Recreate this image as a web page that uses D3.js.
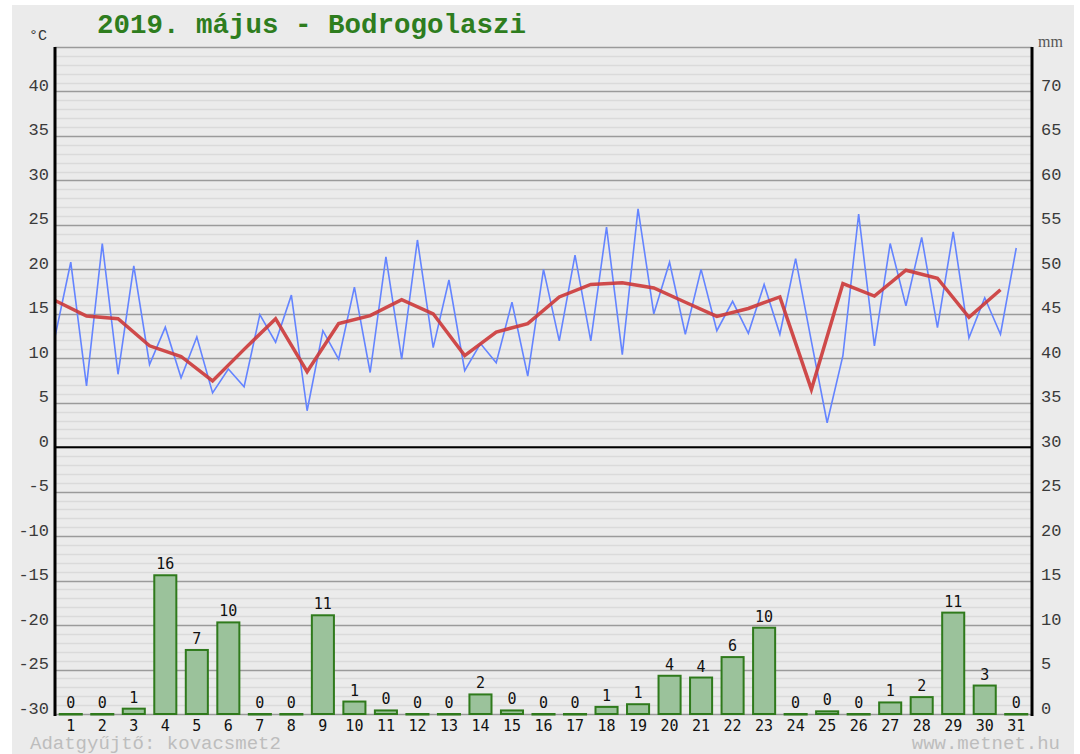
<!DOCTYPE html>
<html>
<head>
<meta charset="utf-8">
<script src="https://cdn.jsdelivr.net/npm/d3@7"></script>
<style>
  body { margin: 0; background: #fff; }
  svg { display: block; }
</style>
</head>
<body>
<div id="chart"></div>
<script>
// days of the month
const days = [1, 2, 3, 4, 5, 6, 7, 8, 9, 10, 11, 12, 13, 14, 15, 16,
  17, 18, 19, 20, 21, 22, 23, 24, 25, 26, 27, 28, 29, 30, 31];

// daily mean temperature (°C)
const tempMean = [16.5, 14.75, 14.45, 11.4, 10.2, 7.45, 11.0, 14.45, 8.5, 13.9,
  14.8, 16.6, 15.0, 10.3, 12.95, 13.9, 16.9, 18.3, 18.5, 17.9, 16.3, 14.7, 15.6,
  16.9, 6.5, 18.4, 17.0, 19.9, 19.0, 14.6, 17.7];

// half-day temperature readings (°C), two per day
const tempHalfDay = [12.4, 20.8, 6.9, 22.9, 8.2, 20.4, 9.3, 13.5, 7.8, 12.4,
  6.1, 8.8, 6.8, 14.9, 11.8, 17.1, 4.1, 13.1, 9.9, 18.0,
  8.4, 21.4, 9.9, 23.3, 11.2, 18.8, 8.6, 11.65, 9.5, 16.3,
  8.0, 20.0, 11.95, 21.6, 11.95, 24.75, 10.4, 26.8, 15.0, 20.8,
  12.7, 20.0, 13.1, 16.4, 12.8, 18.3, 12.7, 21.2, 11.9, 2.75,
  10.3, 26.2, 11.4, 22.9, 15.9, 23.6, 13.45, 24.2, 12.3, 16.8, 12.7, 22.4];

// daily precipitation (mm)
const precip = [0, 0, 0.6, 15.6, 7.2, 10.3, 0, 0, 11.1, 1.4, 0.4, 0, 0, 2.2, 0.4,
  0, 0, 0.8, 1.1, 4.3, 4.1, 6.4, 9.7, 0, 0.3, 0, 1.3, 1.9, 11.4, 3.2, 0];

const tempTicks = [-30, -25, -20, -15, -10, -5, 0, 5, 10, 15, 20, 25, 30, 35, 40];
const precipTicks = [0, 5, 10, 15, 20, 25, 30, 35, 40, 45, 50, 55, 60, 65, 70];

const title = "2019. május - Bodrogolaszi";

const W = 1080, H = 754;
const plotLeft = 55, plotRight = 1032, plotTop = 47, plotBottom = 714;

const svg = d3.select("#chart").append("svg")
  .attr("width", W)
  .attr("height", H);

svg.append("rect")
  .attr("x", 12).attr("y", 5)
  .attr("width", 1062).attr("height", H - 5)
  .attr("fill", "#ebebeb");

// SCALES
const yT = d3.scaleLinear().domain([-30, 45]).range([plotBottom, plotTop]);
const yP = d3.scaleLinear().domain([0, 75]).range([plotBottom, plotTop]);
const xLine = d3.scaleLinear().domain([0, 31]).range([plotLeft, plotRight]);
const xBar = d3.scaleBand().domain(days).range([plotLeft, plotRight])
  .paddingInner(0.3).paddingOuter(0.15);

// grid
const grid = svg.append("g").attr("class", "grid");
grid.selectAll(".minor")
  .data(yT.ticks(75))
  .enter().append("line")
  .attr("class", "minor")
  .attr("x1", plotLeft).attr("x2", plotRight)
  .attr("y1", d => Math.round(yT(d)) + 0.5)
  .attr("y2", d => Math.round(yT(d)) + 0.5)
  .attr("stroke", d => d % 5 === 0 ? "#9a9a9a" : "#dadada")
  .attr("stroke-width", 1.5);

grid.append("line")
  .attr("x1", plotLeft).attr("x2", plotRight)
  .attr("y1", yT(0)).attr("y2", yT(0))
  .attr("stroke", "#000")
  .attr("stroke-width", 2);

// precipitation bars
const bars = svg.append("g").attr("class", "bars");
bars.selectAll("rect")
  .data(precip)
  .enter().append("rect")
  .attr("x", (d, i) => xBar(days[i]))
  .attr("width", xBar.bandwidth())
  .attr("y", d => yP(d))
  .attr("height", d => Math.max(yP(0) - yP(d), 0.5))
  .attr("fill", "#9bc29b")
  .attr("stroke", "#2f7a1c")
  .attr("stroke-width", 2);

bars.selectAll("text")
  .data(precip)
  .enter().append("text")
  .attr("x", (d, i) => xBar(days[i]) + xBar.bandwidth() / 2)
  .attr("y", d => yP(d) - 6)
  .attr("text-anchor", "middle")
  .attr("font-family", "DejaVu Sans Mono")
  .attr("font-size", 15)
  .attr("fill", "#111")
  .text(d => Math.round(d));

// temperature lines
const halfLine = d3.line()
  .x((d, i) => xLine(i / 2))
  .y(d => yT(d));

svg.append("path")
  .datum(tempHalfDay)
  .attr("d", halfLine)
  .attr("fill", "none")
  .attr("stroke", "#6484ff")
  .attr("stroke-width", 1.6);

const meanLine = d3.line()
  .x((d, i) => xLine(i))
  .y(d => yT(d));

svg.append("path")
  .datum(tempMean)
  .attr("d", meanLine)
  .attr("fill", "none")
  .attr("stroke", "#cc3838")
  .attr("stroke-width", 3.5)
  .attr("stroke-opacity", 0.9);

// AXES
const yAxisL = d3.axisLeft(yT).tickValues(tempTicks).tickSize(0).tickPadding(6)
  .tickFormat(d => String(d));
const yAxisR = d3.axisRight(yP).tickValues(precipTicks).tickSize(0).tickPadding(9)
  .tickFormat(d => String(d));
const xAxis = d3.axisBottom(xBar).tickSize(0).tickPadding(0);

const gL = svg.append("g")
  .attr("transform", "translate(" + plotLeft + ",0)")
  .call(yAxisL);
const gR = svg.append("g")
  .attr("transform", "translate(" + plotRight + ",0)")
  .call(yAxisR);
[gL, gR].forEach(g => {
  g.select(".domain").remove();
  g.selectAll("text")
    .attr("dy", "-1")
    .attr("font-family", "Liberation Mono")
    .attr("font-size", 17)
    .attr("fill", "#3a3a3a");
});

const gX = svg.append("g")
  .attr("transform", "translate(0," + plotBottom + ")")
  .call(xAxis);
gX.select(".domain").remove();
gX.selectAll("text")
  .attr("y", 17)
  .attr("dy", 0)
  .attr("font-family", "DejaVu Sans Mono")
  .attr("font-size", 15)
  .attr("fill", "#111");

// vertical axis lines
svg.append("line")
  .attr("x1", plotLeft).attr("x2", plotLeft)
  .attr("y1", plotTop).attr("y2", plotBottom + 2)
  .attr("stroke", "#000").attr("stroke-width", 3);
svg.append("line")
  .attr("x1", plotRight).attr("x2", plotRight)
  .attr("y1", plotTop).attr("y2", plotBottom + 2)
  .attr("stroke", "#000").attr("stroke-width", 3);

// titles and notes
svg.append("text")
  .attr("x", 97).attr("y", 33)
  .attr("font-family", "Liberation Mono")
  .attr("font-weight", "bold")
  .attr("font-size", 27.5)
  .attr("fill", "#2e7d1e")
  .text(title);

svg.append("text")
  .attr("x", 29).attr("y", 40)
  .attr("font-family", "Liberation Mono")
  .attr("font-size", 15)
  .attr("fill", "#333")
  .text("°C");

svg.append("text")
  .attr("x", 1038).attr("y", 47)
  .attr("font-family", "Liberation Serif")
  .attr("font-size", 16)
  .attr("fill", "#555")
  .text("mm");

svg.append("text")
  .attr("x", 30).attr("y", 749)
  .attr("font-family", "Liberation Mono")
  .attr("font-size", 19)
  .attr("fill", "#bdbdbd")
  .text("Adatgyűjtő: kovacsmet2");

svg.append("text")
  .attr("x", 1060).attr("y", 749)
  .attr("text-anchor", "end")
  .attr("font-family", "Liberation Mono")
  .attr("font-size", 19)
  .attr("fill", "#bdbdbd")
  .text("www.metnet.hu");
</script>
</body>
</html>
